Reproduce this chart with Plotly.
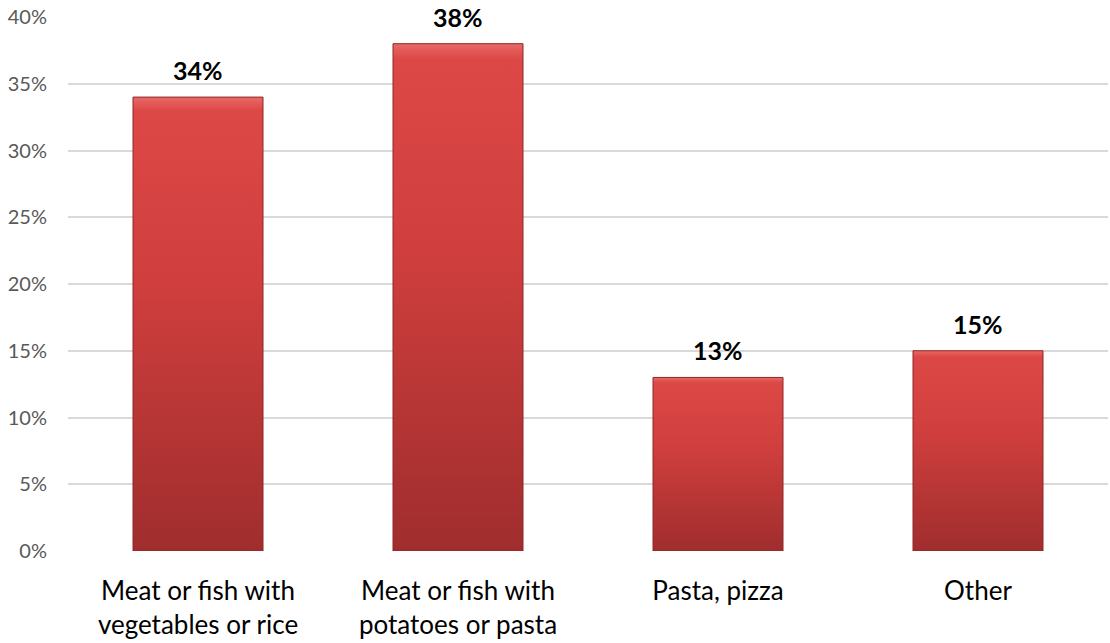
import plotly.graph_objects as go

categories = [
    "Meat or fish with<br>vegetables or rice",
    "Meat or fish with<br>potatoes or pasta",
    "Pasta, pizza",
    "Other",
]
shares = [0.34, 0.38, 0.13, 0.15]
y_ticks = [0, 0.05, 0.10, 0.15, 0.20, 0.25, 0.30, 0.35, 0.40]

FONT = "Lato"
HALF_WIDTH = 0.25  # half of a bar's width, in category units

fig = go.Figure()

# Each bar is a filled rectangle on the numeric category axis, shaded with a vertical gradient
for i, v in enumerate(shares):
    fig.add_trace(go.Scatter(
        x=[i - HALF_WIDTH, i + HALF_WIDTH, i + HALF_WIDTH, i - HALF_WIDTH, i - HALF_WIDTH],
        y=[0, 0, v, v, 0],
        mode="lines",
        fill="toself",
        fillgradient=dict(
            type="vertical",
            colorscale=[[0, "#a02d2d"], [0.6, "#d03f3e"], [0.97, "#dc4846"], [1, "#e86a66"]],
        ),
        line=dict(color="#8f2727", width=1),
        hoverinfo="skip",
        showlegend=False,
    ))

# Value labels above bars
for i, v in enumerate(shares):
    fig.add_annotation(
        x=i, y=v, text=f"<b>{round(v * 100)}%</b>",
        showarrow=False, yanchor="bottom", yshift=10,
        font=dict(family=FONT, size=25, color="#000000"),
    )

fig.update_layout(
    width=1110, height=643,
    margin=dict(l=68, r=2, t=17, b=92),
    paper_bgcolor="white", plot_bgcolor="white",
    font=dict(family=FONT),
    xaxis=dict(
        range=[-0.5, len(categories) - 0.5],
        tickmode="array", tickvals=list(range(len(categories))), ticktext=categories,
        showgrid=False, zeroline=False, showline=False,
        ticks="", ticklabelstandoff=22,
        tickfont=dict(family=FONT, size=26, color="#000000"),
    ),
    yaxis=dict(
        range=[0, 0.40],
        tickmode="array", tickvals=y_ticks, tickformat=".0%",
        showgrid=True, gridcolor="#d9d9d9", gridwidth=1.5,
        zeroline=False, showline=False, ticks="",
        ticklabelstandoff=20,
        tickfont=dict(family=FONT, size=20, color="#595959"),
    ),
)

fig.write_html("out.html")
